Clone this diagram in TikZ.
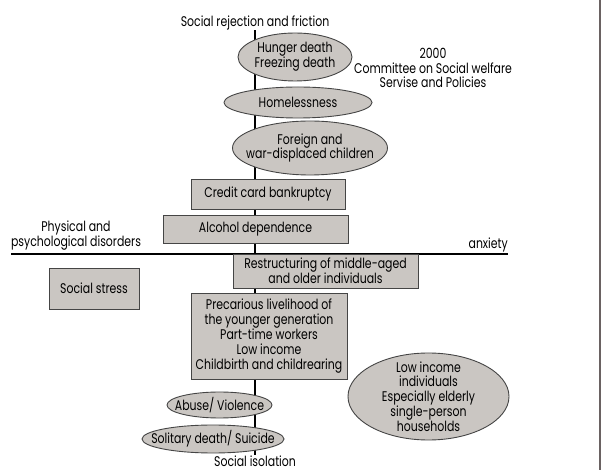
\documentclass[tikz,border=0pt]{standalone}
\usepackage{fontspec}
\setmainfont{Poppins}[FakeStretch=0.78]
\usetikzlibrary{shapes.geometric}
\definecolor{boxfill}{HTML}{CAC6C2}
\definecolor{edgegray}{HTML}{454545}
\definecolor{framegray}{HTML}{6A6262}
\begin{document}
\begin{tikzpicture}[x=1pt,y=-1pt,
  every node/.style={font=\fontsize{14}{14.8}\selectfont, inner sep=0pt, align=center},
  shapebox/.style={draw=edgegray, line width=0.9pt, fill=boxfill, rectangle, minimum width=#1},
  shapeell/.style={draw=edgegray, line width=0.9pt, fill=boxfill, ellipse},
  txt/.style={text=black},
  spine/.style={line width=2pt, black},
  axis/.style={line width=2pt, black}]
\useasboundingbox (0,0) rectangle (603,470);
% labels
\node[txt] (top) at (255,23) {Social rejection and friction};
\node[txt] (bot) at (255,461) {Social isolation};
\node[txt] (phys) at (76,235.5) {Physical and\\psychological disorders};
\node[txt, anchor=east] (anx) at (508,245) {anxiety};
\node[txt] (cmt) at (433,68) {2000\\Committee on Social welfare\\Servise and Policies};
% axis lines
\coordinate (hl) at (11,254);
\coordinate (hr) at (508,254);
\draw[axis] (hl) -- (hr);
\draw[spine] (top.south) -- (bot.north);
\coordinate (ft) at (600,0);
\coordinate (fb) at (600,470);
\draw[framegray, line width=1.5pt] (ft) -- (fb);
% ellipses
\node[shapeell, minimum width=114pt, minimum height=48pt] (e1) at (295,57) {};
\node[txt] (t1) at (e1) {Hunger death\\Freezing death};
\node[shapeell, minimum width=148pt, minimum height=31pt] (e2) at (298,102.5) {};
\node[txt] (t2) at (e2) {Homelessness};
\node[shapeell, minimum width=155pt, minimum height=54pt] (e3) at (310,148) {};
\node[txt] (t3) at (e3) {Foreign and\\war-displaced children};
% boxes
\node[shapebox=154pt, minimum height=30pt] (b1) at (268,194) {};
\node[txt] (u1) at (b1) {Credit card bankruptcy};
\node[shapebox=185pt, minimum height=28pt] (b2) at (255.5,229) {};
\node[txt] (u2) at (b2) {Alcohol dependence};
\node[shapebox=185pt, minimum height=34pt] (b3) at (325.5,271) {};
\node[txt] (u3) at (b3) {Restructuring of middle-aged\\and older individuals};
\node[shapebox=90pt, minimum height=41pt] (b4) at (94,288.5) {};
\node[txt] (u4) at (b4) {Social stress};
\node[shapebox=156pt, minimum height=86pt] (b5) at (269,336) {};
\node[txt] (u5) at (b5) {Precarious livelihood of\\the younger generation\\Part-time workers\\Low income\\Childbirth and childrearing};
% lower ellipses
\node[shapeell, minimum width=105pt, minimum height=26pt] (e4) at (219.5,405) {};
\node[txt] (t4) at (e4) {Abuse/ Violence};
\node[shapeell, minimum width=142pt, minimum height=28pt] (e5) at (213,439) {};
\node[txt] (t5) at (e5) {Solitary death/ Suicide};
\node[shapeell, minimum width=161pt, minimum height=87pt] (e6) at (428.5,396.5) {};
\node[txt] (t6) at (e6) {Low income\\individuals\\Especially elderly\\single-person\\households};
\end{tikzpicture}
\end{document}
